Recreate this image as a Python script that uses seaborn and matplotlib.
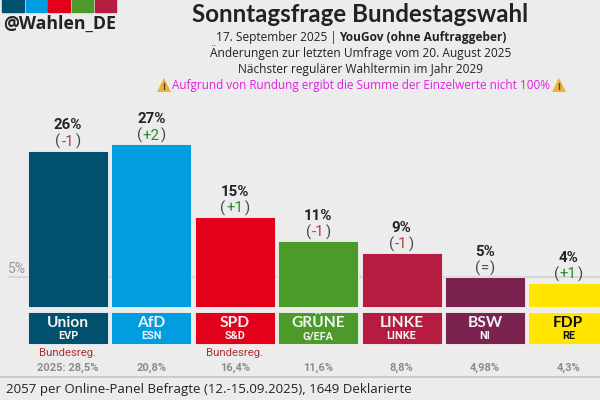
import matplotlib
matplotlib.use("Agg")
import matplotlib.pyplot as plt
import seaborn as sns

parties = ["Union", "AfD", "SPD", "GRÜNE", "LINKE", "BSW", "FDP"]
groups = ["EVP", "ESN", "S&D", "G/EFA", "LINKE", "NI", "RE"]
values = [26, 27, 15, 11, 9, 5, 4]
changes = ["-1", "+2", "+1", "-1", "-1", "=", "+1"]
results_2025 = ["2025: 28,5%", "20,8%", "16,4%", "11,6%", "8,8%", "4,98%", "4,3%"]
in_government = ["Union", "SPD"]
colors = ["#00506e", "#009ee0", "#e2001a", "#4c9a2a", "#b51c3f", "#7a2350", "#ffe500"]

BG = "#ececec"
DARK = "#222222"

sns.set_theme(style="white", rc={"figure.facecolor": BG, "axes.facecolor": BG})
plt.rcParams["font.family"] = ["Open Sans", "DejaVu Sans"]

fig = plt.figure(figsize=(6, 4), dpi=100)
ax = fig.add_axes([0, 0, 1, 1])


def ftext(x, y, s, **kw):
    # x, y in pixels from the top left
    kw.setdefault("ha", "center")
    kw.setdefault("va", "center")
    kw.setdefault("color", DARK)
    return fig.text(x / 600, 1 - y / 400, s, **kw)


# bars
sns.barplot(x=parties, y=values, hue=parties, palette=colors, dodge=False, width=0.96,
            saturation=1, legend=False, ax=ax, edgecolor="#f4f4f4", linewidth=0.6, zorder=3)

# name boxes under the bars
box_heights = [-5.34] * len(parties)
sns.barplot(x=parties, y=box_heights, hue=parties, palette=colors, dodge=False, width=0.96,
            saturation=1, legend=False, ax=ax, bottom=-0.73, edgecolor="#f4f4f4", linewidth=0.6, zorder=3)

ax.set_xlim(-0.815, 6.38)
ax.set_ylim(-15.37, 50.96)
ax.axis("off")

# 5% line and footer line
ax.plot([-0.72, 6.38], [4.95, 4.95], color="#d2d2d2", lw=1.2, zorder=1)
ax.text(-0.72, 5.2, "5%", color="#999999", fontsize=10, ha="left", va="bottom", family="Roboto")
ax.plot([-0.815, 6.38], [-11.6, -11.6], color="#c4c4c4", lw=1.2, zorder=1)

fig.canvas.draw()
renderer = fig.canvas.get_renderer()

for i, party in enumerate(parties):
    v = values[i]
    ax.annotate(f"{v}%", (i, v), xytext=(0, 18.2), textcoords="offset points", ha="center", va="center",
                fontsize=10.8, fontweight="bold", color=DARK, family="Roboto")
    ch = changes[i]
    ch_color = "#444444" if ch == "=" else ("#2a8a2a" if ch.startswith("+") else "#b04040")
    mid = ax.annotate(ch, (i, v), xytext=(0, 6.3), textcoords="offset points", ha="center", va="center",
                      fontsize=10.8, color=ch_color, family="Roboto")
    half = mid.get_window_extent(renderer).width / 2 * 72 / fig.dpi
    ax.annotate("(", (i, v), xytext=(-half - 0.8, 6.3), textcoords="offset points", ha="right", va="center",
                fontsize=10.8, color="#444444", family="Roboto")
    ax.annotate(")", (i, v), xytext=(half + 0.8, 6.3), textcoords="offset points", ha="left", va="center",
                fontsize=10.8, color="#444444", family="Roboto")

    txt = "#111111" if party == "FDP" else "#f2f2f2"
    ax.text(i, -2.6, party, color=txt, fontsize=11.2, fontweight="bold", ha="center", va="center",
            family="Lato", zorder=4)
    ax.text(i, -4.8, groups[i], color=txt, fontsize=7.8, fontweight="bold", ha="center", va="center",
            family="Roboto", zorder=4)
    if party in in_government:
        ax.text(i, -7.65, "Bundesreg.", color="#b03030", fontsize=8.2, ha="center", va="center", family="Roboto")
    ax.text(i, -10, results_2025[i], color="#8c8c8c", fontsize=8, fontweight="bold", ha="center", va="center",
            family="Roboto")

# header
logo_edges = [(2, 24), (26, 47), (48, 70), (72, 93), (95, 116)]
for (x0, x1), c in zip(logo_edges, colors):
    fig.patches.append(plt.Rectangle((x0 / 600, 1 - 12 / 400), (x1 - x0) / 600, 12 / 400,
                                     transform=fig.transFigure, color=c))
ftext(3, 23.5, "@Wahlen_DE", ha="left", fontsize=12.8, fontweight="bold", family="Open Sans")
ftext(360.5, 15, "Sonntagsfrage Bundestagswahl", fontsize=17.4, fontweight="bold", family="Lato")

ftext(216, 37, "17. September 2025 | ", ha="left", fontsize=8.6)
ftext(339, 37, "YouGov (ohne Auftraggeber)", ha="left", fontsize=8.6, fontweight="bold")
ftext(361, 53, "Änderungen zur letzten Umfrage vom 20. August 2025", fontsize=8.6)
ftext(361, 69, "Nächster regulärer Wahltermin im Jahr 2029", fontsize=8.6)
ftext(361, 85, "Aufgrund von Rundung ergibt die Summe der Einzelwerte nicht 100%", fontsize=8.5, color="#e020e0")
# warning signs: triangle marker with the mark drawn on top
for wx in (163.5, 558.5):
    fig.add_artist(plt.Line2D([wx / 600], [1 - 85 / 400], marker="^", ms=10, color="#eeb035", mew=0,
                              transform=fig.transFigure))
    fig.add_artist(plt.Line2D([wx / 600, wx / 600], [1 - 82.5 / 400, 1 - 86.5 / 400], color="#444444", lw=1,
                              transform=fig.transFigure))
    fig.add_artist(plt.Line2D([wx / 600, wx / 600], [1 - 87.6 / 400, 1 - 88.6 / 400], color="#444444", lw=1,
                              transform=fig.transFigure))

# footer
ftext(6, 390, "2057 per Online-Panel Befragte (12.-15.09.2025), 1649 Deklarierte", ha="left", fontsize=9.58,
      family="Open Sans")

fig.savefig("out.png", dpi=100, facecolor=BG)
